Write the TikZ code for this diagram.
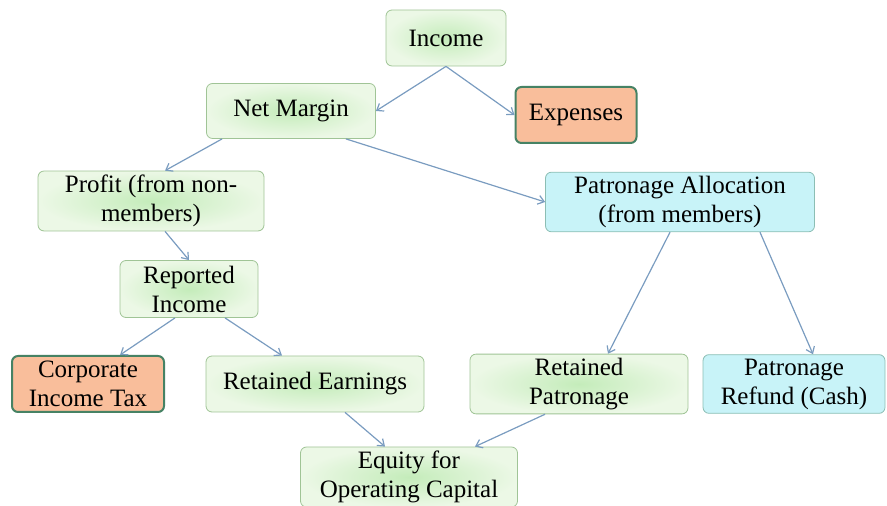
\documentclass[tikz,border=0pt]{standalone}
\usepackage{xcolor,tikz,fontspec}
\setmainfont{Liberation Serif}
\usetikzlibrary{arrows.meta,calc,positioning}
\definecolor{leaf}{RGB}{236,248,230}
\definecolor{leafdeep}{RGB}{196,236,186}
\definecolor{leafline}{RGB}{160,196,150}
\definecolor{peach}{RGB}{249,190,155}
\definecolor{peachline}{RGB}{70,130,100}
\definecolor{sky}{RGB}{200,243,248}
\definecolor{skyline}{RGB}{140,190,180}
\definecolor{flow}{RGB}{122,156,192}

\begin{document}
\begin{tikzpicture}[x=0.5pt,y=-0.5pt,>={Straight Barb[length=3pt,width=4.5pt]},
  font=\fontsize{12.5}{14.5}\selectfont,
  box/.style={draw=leafline,rounded corners=3pt,align=center,inner sep=2pt,
    shade,shading=radial,inner color=leafdeep,outer color=leaf},
  hot/.style={draw=peachline,line width=1pt,rounded corners=3pt,align=center,inner sep=2pt,fill=peach},
  cool/.style={draw=skyline,rounded corners=3pt,align=center,inner sep=2pt,fill=sky},
  flowline/.style={->,flow,line width=0.6pt}]
\useasboundingbox (0,0) rectangle (887,506);
\node[box,minimum width=60pt,minimum height=28pt] (inc) at (446,38) {Income};
\node[box,minimum width=84.5pt,minimum height=27.5pt] (nm) at (291,111) {Net Margin};
\node[hot,minimum width=60.5pt,minimum height=28pt] (exp) at (576,115) {Expenses};
\node[box,minimum width=113pt,minimum height=28.5pt] (pr) at (151,201) {Profit (from non-\\members)};
\node[cool,minimum width=134.5pt,minimum height=29pt] (pa) at (680,202) {Patronage Allocation\\(from members)};
\node[box,minimum width=69pt,minimum height=28.5pt] (ri) at (189,289) {Reported\\Income};
\node[hot,minimum width=76pt,minimum height=28pt] (ct) at (88,384) {Corporate\\Income Tax};
\node[box,minimum width=109pt,minimum height=28pt] (re) at (315,384) {Retained Earnings};
\node[box,minimum width=109pt,minimum height=28pt] (rp) at (579,384) {Retained\\Patronage};
\node[cool,minimum width=91pt,minimum height=28pt] (rf) at (794,384) {Patronage\\Refund (Cash)};
\node[box,minimum width=108.5pt,minimum height=29pt] (eq) at (409,477) {Equity for\\Operating Capital};
\draw[flowline] (inc.south) -- (nm.east);
\draw[flowline] (inc.south) -- (exp.west);
\draw[flowline] ([xshift=8pt]nm.south west) -- ([xshift=7pt]pr.north);
\draw[flowline] ([xshift=-15pt]nm.south east) -- (pa.west);
\draw[flowline] ([xshift=7pt]pr.south) -- (ri.north);
\draw[flowline] ([xshift=-7pt]ri.south) -- ([xshift=16pt]ct.north);
\draw[flowline] ([xshift=18pt]ri.south) -- ([xshift=-16.5pt]re.north);
\draw[flowline] ([xshift=-5pt]pa.south) -- ([xshift=14.5pt]rp.north);
\draw[flowline] ([xshift=40pt]pa.south) -- ([xshift=9.5pt]rf.north);
\draw[flowline] ([xshift=15pt]re.south) -- ([xshift=-12pt]eq.north);
\draw[flowline] ([xshift=-17pt]rp.south) -- ([xshift=33pt]eq.north);
\end{tikzpicture}
\end{document}
